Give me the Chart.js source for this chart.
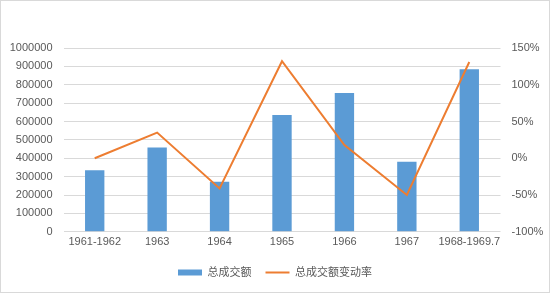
<!DOCTYPE html>
<html>
<head>
<meta charset="utf-8">
<script src="https://cdn.jsdelivr.net/npm/chart.js@4/dist/chart.umd.min.js"></script>
<style>
  html, body { margin: 0; padding: 0; background: #fff; }
  #wrap { width: 550px; height: 293px; box-sizing: border-box; border: 1px solid #d9d9d9; }
</style>
</head>
<body>
<div id="wrap"><canvas id="chart" width="548" height="291"></canvas></div>
<script>
var categories = ['1961-1962', '1963', '1964', '1965', '1966', '1967', '1968-1969.7'];
var totalVolume = [335000, 459000, 272000, 635000, 755000, 381000, 885000];
var changeRate = [0, 0.35, -0.41, 1.32, 0.18, -0.50, 1.31];
var seriesNames = ['总成交额', '总成交额变动率'];

var fontFamily = '"Liberation Sans", "Noto Sans CJK SC", sans-serif';
var textColor = '#595959';

var ctx = document.getElementById('chart').getContext('2d');
var chart = new Chart(ctx, {
    type: 'bar',
    data: {
        labels: categories,
        datasets: [{
            type: 'line',
            label: seriesNames[1],
            data: changeRate,
            yAxisID: 'y1',
            borderColor: '#ed7d31',
            backgroundColor: '#ed7d31',
            borderWidth: 2,
            pointRadius: 0,
            pointStyle: 'line',
            tension: 0,
            order: 0
        }, {
            label: seriesNames[0],
            data: totalVolume,
            yAxisID: 'y',
            backgroundColor: '#5b9bd5',
            borderWidth: 0,
            pointStyle: 'rect',
            barPercentage: 0.31,
            categoryPercentage: 1,
            order: 1
        }]
    },
    options: {
        responsive: false,
        animation: false,
        layout: { padding: { left: 0, right: 0, top: 47, bottom: 4 } },
        plugins: {
            tooltip: { enabled: false },
            legend: {
                position: 'bottom',
                reverse: true,
                labels: {
                    usePointStyle: true,
                    pointStyleWidth: 24,
                    boxHeight: 6,
                    color: textColor,
                    padding: 14,
                    font: { family: fontFamily, size: 11 }
                }
            }
        },
        scales: {
            x: {
                grid: { display: false, drawTicks: false },
                border: { display: false },
                ticks: { color: textColor, padding: 4, maxRotation: 0, autoSkip: false, font: { family: fontFamily, size: 11 } }
            },
            y: {
                position: 'left',
                min: 0,
                max: 1000000,
                afterFit: function (s) { s.width = 62.5; },
                grid: { color: '#d9d9d9', drawTicks: false },
                border: { display: false },
                ticks: {
                    stepSize: 100000,
                    color: textColor,
                    padding: 11,
                    font: { family: fontFamily, size: 11 },
                    callback: function (v) { return String(v); }
                }
            },
            y1: {
                position: 'right',
                min: -1,
                max: 1.5,
                afterFit: function (s) { s.width = 48.5; },
                grid: { display: false, drawTicks: false },
                border: { display: false },
                ticks: {
                    stepSize: 0.5,
                    color: textColor,
                    padding: 11,
                    font: { family: fontFamily, size: 11 },
                    callback: function (v) { return Math.round(v * 100) + '%'; }
                }
            }
        }
    }
});
</script>
</body>
</html>
